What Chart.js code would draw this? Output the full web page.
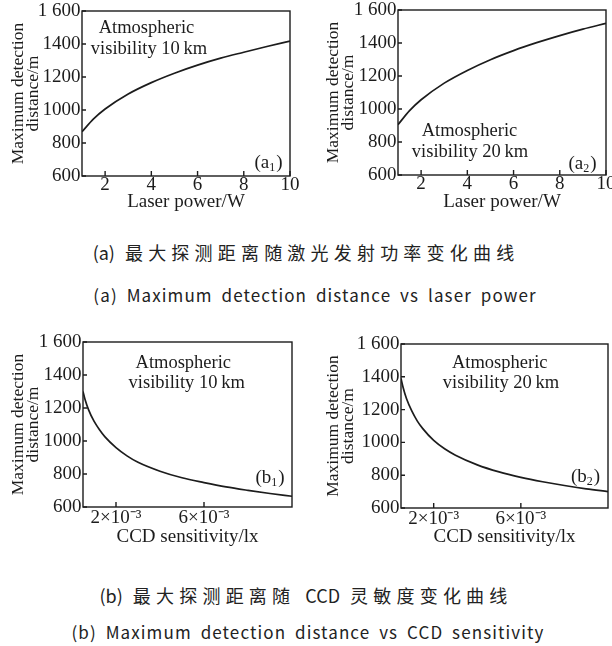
<!DOCTYPE html>
<html>
<head>
<meta charset="utf-8">
<script src="https://cdn.jsdelivr.net/npm/chart.js@4.4.0/dist/chart.umd.min.js"></script>
<style>
  html, body { margin: 0; padding: 0; background: #fff; }
  body { width: 612px; height: 646px; position: relative; overflow: hidden; }
  canvas { position: absolute; }
  .cap { position: absolute; left: 0; width: 612px; text-align: center; color: #222;
         font-family: "Noto Sans CJK SC", "Noto Sans", sans-serif; white-space: nowrap; line-height: 1; }
  .zh { font-size: 18px; word-spacing: 6px; }
  .zh span { letter-spacing: 5.2px; }
  .en { font-size: 17px; letter-spacing: 1.1px; word-spacing: 4px; }
</style>
</head>
<body>
<canvas id="a1" width="306" height="215" style="left:0;top:0"></canvas>
<canvas id="a2" width="306" height="215" style="left:306px;top:0"></canvas>
<canvas id="b1" width="306" height="230" style="left:0;top:330px"></canvas>
<canvas id="b2" width="306" height="230" style="left:306px;top:330px"></canvas>

<div class="cap zh" style="top:243px">(a) <span>最大探测距离随激光发射功率变化曲线</span></div>
<div class="cap en" style="top:286px;left:9px">(a) Maximum detection distance vs laser power</div>
<div class="cap zh" style="top:586px">(b) <span>最大探测距离随</span> CCD <span>灵敏度变化曲线</span></div>
<div class="cap en" style="top:623px;left:2px">(b) Maximum detection distance vs CCD sensitivity</div>

<script>
// data
const laserPower = [1, 1.5, 2, 3, 4, 5, 6, 7, 8, 9, 10];             // W
const distVis10Power = [868, 946, 1006, 1097, 1166, 1223, 1272, 1314, 1350, 1385, 1418];
const distVis20Power = [905, 990, 1056, 1157, 1234, 1299, 1354, 1402, 1445, 1484, 1519];

const ccdSens = [0.5, 0.6, 0.75, 1, 1.25, 1.5, 2, 2.5, 3, 4, 5, 6, 7, 8, 9, 10];  // x10^-3 lx
const distVis10Ccd = [1300, 1248, 1190, 1120, 1068, 1025, 960, 910, 871, 817, 777, 748, 722, 701, 682, 665];
const distVis20Ccd = [1390, 1333, 1268, 1190, 1130, 1084, 1012, 961, 922, 863, 820, 787, 760, 737, 717, 700];

const distTicks = [600, 800, 1000, 1200, 1400, 1600];
const powerTicks = [2, 4, 6, 8, 10];
const ccdTicks = [2, 6];

const SERIF = '"Liberation Serif", "Times New Roman", serif';
const INK = '#1c1c1c';

// frame, inward tick marks and in-plot notes
const boxPlugin = {
  id: 'box',
  afterDraw(chart, args, opts) {
    const { ctx, chartArea: a, scales: { x, y } } = chart;
    ctx.save();
    ctx.strokeStyle = INK;
    ctx.lineWidth = 1.4;
    ctx.strokeRect(a.left, a.top, a.right - a.left, a.bottom - a.top);
    ctx.beginPath();
    x.ticks.forEach(t => { const p = x.getPixelForValue(t.value); ctx.moveTo(p, a.bottom); ctx.lineTo(p, a.bottom - 5); });
    y.ticks.forEach(t => { const p = y.getPixelForValue(t.value); ctx.moveTo(a.left, p); ctx.lineTo(a.left + 4, p); });
    ctx.stroke();

    ctx.fillStyle = INK;
    ctx.textBaseline = 'middle';
    ctx.textAlign = 'center';
    ctx.font = `18.5px ${SERIF}`;
    opts.lines.forEach(l => ctx.fillText(l.text, l.x, l.y));

    // panel tag like (a1) with subscript
    const tg = opts.tag;
    ctx.textAlign = 'left';
    const big = `19px ${SERIF}`, small = `12px ${SERIF}`;
    ctx.font = big; const w1 = ctx.measureText('(' + tg.letter).width, w3 = ctx.measureText(')').width;
    ctx.font = small; const w2 = ctx.measureText(tg.sub).width + 1;
    let cx = tg.x - (w1 + w2 + w3) / 2;
    ctx.font = big; ctx.fillText('(' + tg.letter, cx, tg.y); cx += w1;
    ctx.font = small; ctx.fillText(tg.sub, cx, tg.y + 5); cx += w2;
    ctx.font = big; ctx.fillText(')', cx, tg.y);
    ctx.restore();
  }
};

function makeChart(id, cfg) {
  const font = { family: SERIF, size: 19, lineHeight: 1 };
  new Chart(document.getElementById(id), {
    type: 'line',
    data: {
      datasets: [{
        data: cfg.xs.map((v, i) => ({ x: v, y: cfg.ys[i] })),
        borderColor: INK, borderWidth: 1.7, pointRadius: 0,
        cubicInterpolationMode: 'monotone', fill: false
      }]
    },
    options: {
      responsive: false, animation: false,
      layout: { padding: { left: 0, right: cfg.padRight, top: cfg.padTop, bottom: 0 } },
      plugins: { legend: { display: false }, tooltip: { enabled: false }, box: { lines: cfg.lines, tag: cfg.tag } },
      scales: {
        x: {
          type: 'linear', min: cfg.xMin, max: 10,
          afterBuildTicks: s => { s.ticks = cfg.xTicks.map(v => ({ value: v })); },
          afterFit: s => { s.height = cfg.xHeight; s.paddingLeft = 0; s.paddingRight = 0; },
          grid: { display: false, drawTicks: false }, border: { display: false },
          ticks: { color: INK, font, padding: cfg.xTickPad, maxRotation: 0, autoSkip: false, callback: cfg.xFmt },
          title: { display: true, text: cfg.xTitle, color: INK, font, padding: { top: 0, bottom: cfg.xTitlePad } }
        },
        y: {
          min: 600, max: 1600,
          afterBuildTicks: s => { s.ticks = distTicks.map(v => ({ value: v })); },
          afterFit: s => { s.width = cfg.yWidth; s.paddingTop = 0; s.paddingBottom = 0; },
          grid: { display: false, drawTicks: false }, border: { display: false },
          ticks: { color: INK, font, padding: 1.5, callback: v => v === 1600 ? '1 600' : String(v) },
          title: {
            display: true, text: ['Maximum detection', 'distance/m'], color: INK,
            font: { family: SERIF, size: 17.5, lineHeight: '14.5px' },
            padding: { top: cfg.yTitlePad, bottom: 0 }
          }
        }
      }
    },
    plugins: [boxPlugin]
  });
}

const powerFmt = v => String(v);
const ccdFmt = v => `${v}×10⁻³`;

makeChart('a1', {
  xs: laserPower, ys: distVis10Power, xMin: 1, xTicks: powerTicks, xFmt: powerFmt, xTitle: 'Laser power/W',
  yWidth: 82, padRight: 16, padTop: 11, xHeight: 39, xTickPad: 0, xTitlePad: 3.5, yTitlePad: 11.25,
  lines: [{ text: 'Atmospheric', x: 146.5, y: 28 }, { text: 'visibility 10\u2009km', x: 149, y: 49 }],
  tag: { letter: 'a', sub: '1', x: 268.5, y: 163 }
});
makeChart('a2', {
  xs: laserPower, ys: distVis20Power, xMin: 1, xTicks: powerTicks, xFmt: powerFmt, xTitle: 'Laser power/W',
  yWidth: 92, padRight: 6, padTop: 10, xHeight: 40, xTickPad: 0, xTitlePad: 3.5, yTitlePad: 20.25,
  lines: [{ text: 'Atmospheric', x: 163.5, y: 131 }, { text: 'visibility 20\u2009km', x: 164, y: 151.7 }],
  tag: { letter: 'a', sub: '2', x: 276.5, y: 164 }
});
makeChart('b1', {
  xs: ccdSens, ys: distVis10Ccd, xMin: 0.5, xTicks: ccdTicks, xFmt: ccdFmt, xTitle: 'CCD sensitivity/lx',
  yWidth: 83, padRight: 14, padTop: 12, xHeight: 53, xTickPad: 1.8, xTitlePad: 13.5, yTitlePad: 11.25,
  lines: [{ text: 'Atmospheric', x: 183.3, y: 32.7 }, { text: 'visibility 10\u2009km', x: 186.7, y: 53.3 }],
  tag: { letter: 'b', sub: '1', x: 270, y: 148.3 }
});
makeChart('b2', {
  xs: ccdSens, ys: distVis20Ccd, xMin: 0.5, xTicks: ccdTicks, xFmt: ccdFmt, xTitle: 'CCD sensitivity/lx',
  yWidth: 95, padRight: 4, padTop: 14, xHeight: 52, xTickPad: 1.8, xTitlePad: 13.5, yTitlePad: 20.25,
  lines: [{ text: 'Atmospheric', x: 193.7, y: 32.7 }, { text: 'visibility 20\u2009km', x: 195, y: 53.3 }],
  tag: { letter: 'b', sub: '2', x: 279.5, y: 146.7 }
});
</script>
</body>
</html>
